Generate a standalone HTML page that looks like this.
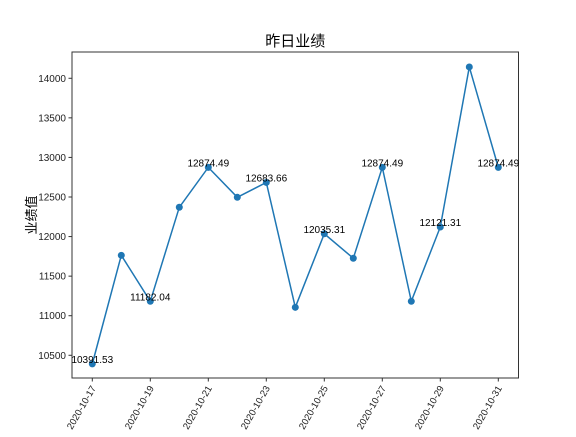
<!DOCTYPE html>
<html><head><meta charset="utf-8"><style>
body{margin:0;background:#fff}
svg{font-family:"Liberation Sans","Noto Sans CJK SC",sans-serif}
</style></head><body>
<svg width="576" height="432" xmlns="http://www.w3.org/2000/svg">
<g id="plot"></g>
</svg>
<script>
const dates=["2020-10-17","2020-10-18","2020-10-19","2020-10-20","2020-10-21","2020-10-22","2020-10-23","2020-10-24","2020-10-25","2020-10-26","2020-10-27","2020-10-28","2020-10-29","2020-10-30","2020-10-31"];
const values=[10391.53,11763,11182.04,12370,12874.49,12496,12683.66,11106,12035.31,11726,12874.49,11182,12121.31,14143,12874.49];
const labeled=[true,false,true,false,true,false,true,false,true,false,true,false,true,false,true];
const yTicks=[10500,11000,11500,12000,12500,13000,13500,14000];
const xTickIdx=[0,2,4,6,8,10,12,14];
const L=72,R=518.5,T=52,B=378;
const yMin=10213,yMax=14332;
const x=i=>92.3+i*(498.3-92.3)/14;
const y=v=>B-(v-yMin)/(yMax-yMin)*(B-T);
const NS="http://www.w3.org/2000/svg";
const g=document.getElementById('plot');
function mk(t,a,txt){const e=document.createElementNS(NS,t);for(const k in a)e.setAttribute(k,a[k]);if(txt!==undefined)e.textContent=txt;g.appendChild(e);return e;}
let e=mk('rect',{x:L,y:T,width:R-L,height:B-T,fill:'none',stroke:'#333','stroke-width':1});


e=mk('text',{x:(L+R)/2,y:46,'text-anchor':'middle','font-size':15,fill:'#000'},'昨日业绩');


e=mk('text',{x:0,y:0,'text-anchor':'middle','font-size':13,fill:'#000',transform:`translate(36,${(T+B)/2}) rotate(-90)`},'业绩值');


yTicks.forEach(v=>{
  e=mk('line',{x1:L-3.5,x2:L,y1:y(v),y2:y(v),stroke:'#333'});
  
  
  e=mk('text',{x:L-6,y:y(v)+3.5,'text-anchor':'end','font-size':10,fill:'#222'},String(v));
  
  
});
xTickIdx.forEach(i=>{
  e=mk('line',{x1:x(i),x2:x(i),y1:B,y2:B+3.5,stroke:'#333'});
  
  
  e=mk('text',{x:0,y:0,'text-anchor':'end','font-size':9.5,fill:'#222',transform:`translate(${x(i)+4},${B+10}) rotate(-60)`},dates[i]);
  
  
});
e=mk('polyline',{points:values.map((v,i)=>x(i)+','+y(v)).join(' '),fill:'none',stroke:'#1f77b4','stroke-width':1.5});


values.forEach((v,i)=>{
  e=mk('circle',{cx:x(i),cy:y(v),r:3.5,fill:'#1f77b4'});
  
  
  if(labeled[i]){
    e=mk('text',{x:x(i),y:y(v)-1,'text-anchor':'middle','font-size':10,fill:'#000'},v.toFixed(2));
    
    
  }
});
</script>
</body></html>
